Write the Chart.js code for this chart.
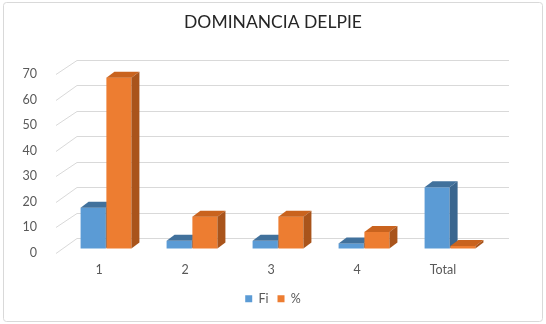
<!DOCTYPE html>
<html>
<head>
<meta charset="utf-8">
<script src="https://cdn.jsdelivr.net/npm/chart.js@4.4.1/dist/chart.umd.min.js"></script>
<style>
html,body{margin:0;padding:0;background:#fff;}
#wrap{width:546px;height:324px;position:relative;}
</style>
</head>
<body>
<div id="wrap"><canvas id="c" width="546" height="324"></canvas></div>
<script>
const categories = ['1', '2', '3', '4', 'Total'];
const fiValues = [16, 3, 3, 2, 24];
const pctValues = [67, 12.5, 12.5, 6.5, 1];
const yTicks = [0, 10, 20, 30, 40, 50, 60, 70];

const FONT = 'Lato, "Liberation Sans", sans-serif';
const faces = {
  Fi: {front: '#5B9BD5', top: '#41719C', side: '#3A668F'},
  '%': {front: '#ED7D31', top: '#C9631E', side: '#A9541B'}
};
const DX = 8, DY = -6;

const threeD = {
  id: 'threeD',
  beforeDraw(chart) {
    const ctx = chart.ctx;
    ctx.save();
    ctx.fillStyle = '#fff';
    ctx.fillRect(0, 0, chart.width, chart.height);
    ctx.strokeStyle = '#d9d9d9';
    ctx.lineWidth = 1;
    const r = 3, x0 = 3.5, y0 = 2.5, x1 = chart.width - 3.5, y1 = chart.height - 2.5;
    ctx.beginPath();
    ctx.moveTo(x0 + r, y0);
    ctx.arcTo(x1, y0, x1, y1, r);
    ctx.arcTo(x1, y1, x0, y1, r);
    ctx.arcTo(x0, y1, x0, y0, r);
    ctx.arcTo(x0, y0, x1, y0, r);
    ctx.closePath();
    ctx.stroke();
    ctx.restore();
  },
  beforeDatasetsDraw(chart) {
    const ctx = chart.ctx;
    const ys = chart.scales.y;
    const area = chart.chartArea;
    ctx.save();
    ctx.strokeStyle = '#d9d9d9';
    ctx.lineWidth = 1;
    yTicks.forEach(v => {
      const py = ys.getPixelForValue(v);
      const fx = area.left - 7, fy = py + 4;
      const bx = area.left + 14, by = py - 10.5;
      ctx.beginPath();
      ctx.moveTo(fx, Math.round(fy) + 0.5);
      ctx.lineTo(bx, Math.round(by) + 0.5);
      ctx.lineTo(area.right + 16, Math.round(by) + 0.5);
      ctx.stroke();
    });
    const n = chart.data.labels.length;
    for (let i = 0; i < n; i++) {
      chart.data.datasets.forEach((ds, d) => {
        const el = chart.getDatasetMeta(d).data[i];
        const p = el.getProps(['x', 'y', 'base', 'width'], true);
        const l = p.x - p.width / 2, rr = p.x + p.width / 2;
        const t = p.y, b = p.base;
        const c = faces[ds.label];
        ctx.fillStyle = c.front;
        ctx.fillRect(l, t, rr - l, b - t);
        ctx.fillStyle = c.top;
        ctx.beginPath();
        ctx.moveTo(l, t); ctx.lineTo(rr, t); ctx.lineTo(rr + DX, t + DY); ctx.lineTo(l + DX, t + DY);
        ctx.closePath(); ctx.fill();
        ctx.fillStyle = c.side;
        ctx.beginPath();
        ctx.moveTo(rr, t); ctx.lineTo(rr + DX, t + DY); ctx.lineTo(rr + DX, b + DY); ctx.lineTo(rr, b);
        ctx.closePath(); ctx.fill();
      });
    }
    ctx.restore();
    return false;
  }
};

new Chart(document.getElementById('c'), {
  type: 'bar',
  data: {
    labels: categories,
    datasets: [
      {label: 'Fi', data: fiValues, backgroundColor: faces.Fi.front, borderWidth: 0},
      {label: '%', data: pctValues, backgroundColor: faces['%'].front, borderWidth: 0}
    ]
  },
  options: {
    responsive: false,
    animation: false,
    devicePixelRatio: 1,
    layout: {padding: {left: 0, right: 0, top: 8, bottom: 9}},
    datasets: {bar: {categoryPercentage: 0.6, barPercentage: 0.97}},
    scales: {
      x: {
        grid: {display: false},
        border: {display: false},
        ticks: {color: '#595959', font: {family: FONT, size: 12.5}, labelOffset: -7, padding: 6}
      },
      y: {
        min: 0, max: 70,
        grid: {display: false},
        border: {display: false},
        afterFit(s) { s.width = 63; },
        ticks: {stepSize: 10, color: '#595959', font: {family: FONT, size: 12.5}, padding: 18, labelOffset: 4}
      },
      yRight: {
        position: 'right',
        min: 0, max: 70,
        grid: {display: false},
        border: {display: false},
        ticks: {display: false},
        afterFit(s) { s.width = 53; }
      }
    },
    plugins: {
      title: {display: true, text: 'DOMINANCIA DELPIE', color: '#262626',
        font: {family: FONT, size: 17.5, weight: 'normal'}, padding: {top: 4, bottom: 37}},
      legend: {position: 'bottom', labels: {color: '#595959', font: {family: FONT, size: 12.5},
        boxWidth: 7, boxHeight: 7, padding: 9}},
      tooltip: {enabled: false}
    }
  },
  plugins: [threeD]
});
</script>
</body>
</html>
